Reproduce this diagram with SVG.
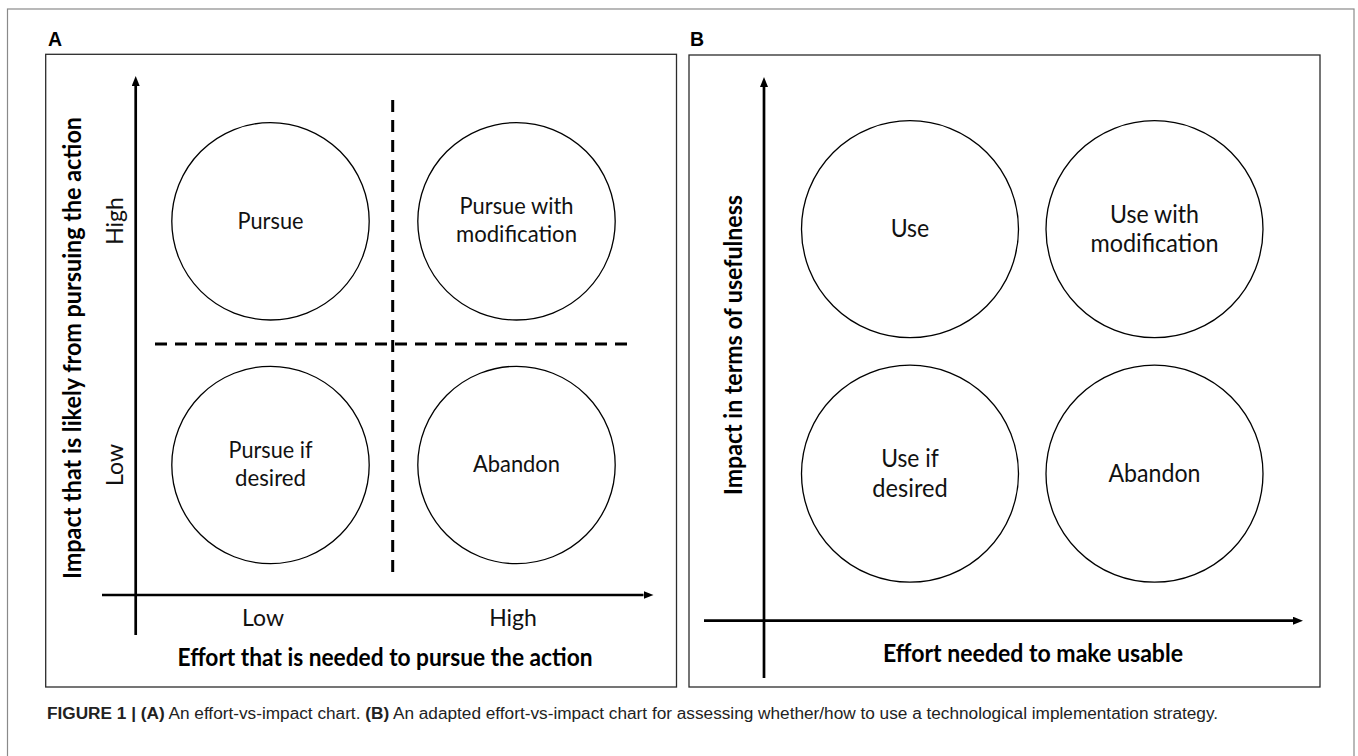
<svg xmlns="http://www.w3.org/2000/svg" width="1358" height="756" viewBox="0 0 1358 756">
<style>
.frame{fill:none;stroke:#8a8a8a;stroke-width:1.2}
.panel{fill:none;stroke:#2b2b2b;stroke-width:1.3}
.axis{stroke:#000;stroke-width:2.7;fill:none}
.dash{stroke:#000;stroke-width:3;stroke-dasharray:12 8;fill:none}
.node{fill:#fff;stroke:#000;stroke-width:1.3}
.lbl{font-family:Lato,"Open Sans","Liberation Sans",sans-serif;fill:#111;text-anchor:middle}
.bl{font-family:Lato,"Open Sans","Liberation Sans",sans-serif;font-weight:bold;fill:#000;text-anchor:middle;font-size:25px}
.pl{font-family:"Liberation Sans",Arial,sans-serif;font-weight:bold;font-size:19.5px;fill:#000}
.cap{font-family:"Liberation Sans",Arial,sans-serif;font-size:16px;fill:#222}
</style>
<defs>
<marker id="ah" markerWidth="10" markerHeight="8" refX="0" refY="4" orient="auto" markerUnits="userSpaceOnUse">
<path d="M0,0 L10,4 L0,8 z" fill="#000"/>
</marker>
</defs>
<rect width="1358" height="756" fill="#fff"/>
<rect class="frame" x="7.5" y="9" width="1346.5" height="770"/>

<g id="panelA">
<text class="pl" x="48" y="46">A</text>
<rect class="panel" x="45.7" y="54.3" width="630.8" height="632.7"/>
</g>
<g id="panelB">
<text class="pl" x="690" y="46">B</text>
<rect class="panel" x="689" y="55" width="631" height="632"/>
</g>

<g id="connectors">
<line class="axis" x1="135.7" y1="635" x2="135.7" y2="86" marker-end="url(#ah)"/>
<line class="axis" x1="102" y1="595" x2="643.5" y2="595" marker-end="url(#ah)"/>
<line class="dash" x1="392.7" y1="100" x2="392.7" y2="576"/>
<line class="dash" x1="155" y1="344" x2="632" y2="344"/>
<line class="axis" x1="764" y1="678" x2="764" y2="87" marker-end="url(#ah)"/>
<line class="axis" x1="704" y1="620.7" x2="1293" y2="620.7" marker-end="url(#ah)"/>
</g>

<g id="axisLabelsA">
<text class="bl" transform="translate(81,348) rotate(-90)" textLength="462" lengthAdjust="spacingAndGlyphs">Impact that is likely from pursuing the action</text>
<text class="lbl" font-size="23" transform="translate(123,221) rotate(-90)">High</text>
<text class="lbl" font-size="23" transform="translate(123,465) rotate(-90)">Low</text>
<text class="lbl" font-size="23" x="263" y="626">Low</text>
<text class="lbl" font-size="23" x="513" y="626">High</text>
<text class="bl" x="385" y="666" textLength="415" lengthAdjust="spacingAndGlyphs">Effort that is needed to pursue the action</text>
</g>

<g id="axisLabelsB">
<text class="bl" transform="translate(741.5,345) rotate(-90)" textLength="300" lengthAdjust="spacingAndGlyphs">Impact in terms of usefulness</text>
<text class="bl" x="1033" y="662" textLength="300" lengthAdjust="spacingAndGlyphs">Effort needed to make usable</text>
</g>

<g id="nodeA1">
<circle class="node" cx="270.5" cy="221.3" r="98.7"/>
<text class="lbl" font-size="23.5" x="270.5" y="228.5" textLength="66" lengthAdjust="spacingAndGlyphs">Pursue</text>
</g>
<g id="nodeA2">
<circle class="node" cx="516.5" cy="221.3" r="98.7"/>
<text class="lbl" font-size="23.5" x="516.5" y="214" textLength="114" lengthAdjust="spacingAndGlyphs">Pursue with</text>
<text class="lbl" font-size="23.5" x="516.5" y="242" textLength="121" lengthAdjust="spacingAndGlyphs">modification</text>
</g>
<g id="nodeA3">
<circle class="node" cx="270.5" cy="465" r="98.7"/>
<text class="lbl" font-size="23.5" x="270.5" y="458" textLength="84" lengthAdjust="spacingAndGlyphs">Pursue if</text>
<text class="lbl" font-size="23.5" x="270.5" y="486" textLength="71" lengthAdjust="spacingAndGlyphs">desired</text>
</g>
<g id="nodeA4">
<circle class="node" cx="516.5" cy="465" r="98.7"/>
<text class="lbl" font-size="23.5" x="516.5" y="471.7" textLength="87" lengthAdjust="spacingAndGlyphs">Abandon</text>
</g>

<g id="nodeB1">
<circle class="node" cx="910" cy="229.2" r="108.5"/>
<text class="lbl" font-size="25" x="910" y="237" textLength="38.6" lengthAdjust="spacingAndGlyphs">Use</text>
</g>
<g id="nodeB2">
<circle class="node" cx="1154.5" cy="229.2" r="108.5"/>
<text class="lbl" font-size="25" x="1154.5" y="222.5" textLength="89" lengthAdjust="spacingAndGlyphs">Use with</text>
<text class="lbl" font-size="25" x="1154.5" y="252" textLength="128" lengthAdjust="spacingAndGlyphs">modification</text>
</g>
<g id="nodeB3">
<circle class="node" cx="910" cy="473.7" r="108.5"/>
<text class="lbl" font-size="25" x="910" y="467" textLength="57.6" lengthAdjust="spacingAndGlyphs">Use if</text>
<text class="lbl" font-size="25" x="910" y="496.5" textLength="75.4" lengthAdjust="spacingAndGlyphs">desired</text>
</g>
<g id="nodeB4">
<circle class="node" cx="1154.5" cy="473.7" r="108.5"/>
<text class="lbl" font-size="25" x="1154.5" y="481.7" textLength="92" lengthAdjust="spacingAndGlyphs">Abandon</text>
</g>

<g id="caption">
<text class="cap" x="47" y="719" textLength="1171" lengthAdjust="spacingAndGlyphs"><tspan font-weight="bold">FIGURE 1 | (A)</tspan> An effort-vs-impact chart. <tspan font-weight="bold">(B)</tspan> An adapted effort-vs-impact chart for assessing whether/how to use a technological implementation strategy.</text>
</g>
</svg>
